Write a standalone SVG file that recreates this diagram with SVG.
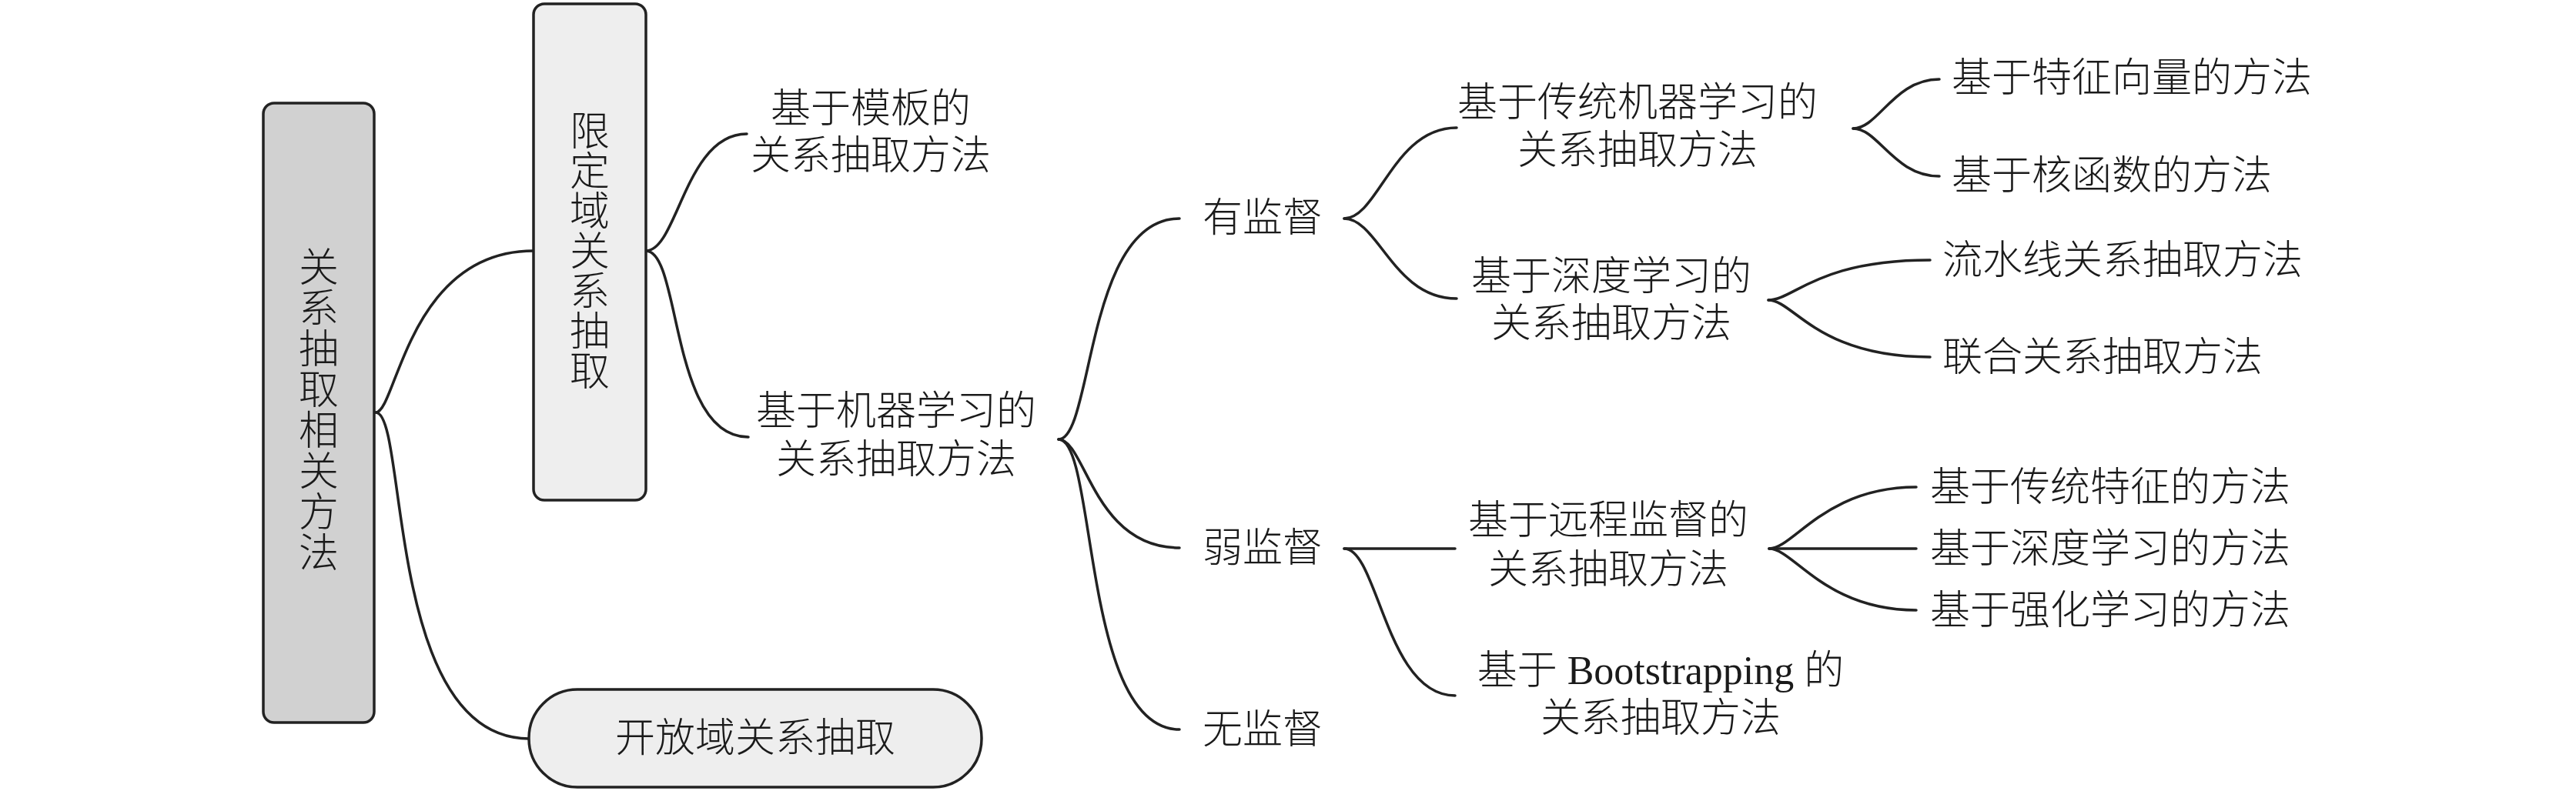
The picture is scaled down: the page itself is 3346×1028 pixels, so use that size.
<svg xmlns="http://www.w3.org/2000/svg" width="3346" height="1028" viewBox="0 0 3346 1028">
<style>
.t{font-family:"Liberation Serif","Noto Sans CJK SC",serif;font-size:52px;font-weight:300;fill:#1a1a1a;dominant-baseline:central}
.m{text-anchor:middle}
.box{stroke:#222;stroke-width:3.5}
.edge{fill:none;stroke:#222;stroke-width:3.5;stroke-linecap:round}
</style>
<rect width="3346" height="1028" fill="#fff"/>
<g id="edges">
<path class="edge" d="M488,536 C515,536 530,326 693,326"/>
<path class="edge" d="M488,536 C530,536 500,960 687,960"/>
<path class="edge" d="M839,326 C880,326 890,174 970,174"/>
<path class="edge" d="M839,326 C885,326 870,568 972,568"/>
<path class="edge" d="M1375,571 C1420,571 1410,284 1532,284"/>
<path class="edge" d="M1375,571 C1410,571 1420,712 1532,712"/>
<path class="edge" d="M1375,571 C1425,571 1405,948 1532,948"/>
<path class="edge" d="M1746,284 C1790,284 1810,166 1892,166"/>
<path class="edge" d="M1746,284 C1790,284 1810,388 1892,388"/>
<path class="edge" d="M2407,167 C2440,167 2460,103 2519,103"/>
<path class="edge" d="M2407,167 C2440,167 2460,229 2519,229"/>
<path class="edge" d="M2297,390 C2330,390 2360,338 2507,338"/>
<path class="edge" d="M2297,390 C2330,390 2360,464 2507,464"/>
<path class="edge" d="M1746,713 L1890,713"/>
<path class="edge" d="M1746,713 C1790,713 1800,904 1890,904"/>
<path class="edge" d="M2298,713 C2330,713 2370,633 2489,633"/>
<path class="edge" d="M2298,713 L2489,713"/>
<path class="edge" d="M2298,713 C2330,713 2370,793 2489,793"/>
</g>
<g id="n-root">
<rect class="box" x="342" y="134" width="144" height="805" rx="14" fill="#d1d1d1"/>
<text class="t m" x="414" y="348"><tspan x="414" y="348">关</tspan><tspan x="414" y="401">系</tspan><tspan x="414" y="454">抽</tspan><tspan x="414" y="507">取</tspan><tspan x="414" y="560">相</tspan><tspan x="414" y="613">关</tspan><tspan x="414" y="666">方</tspan><tspan x="414" y="719">法</tspan></text>
</g>
<g id="n-closed">
<rect class="box" x="693" y="5" width="146" height="645" rx="14" fill="#eeeeee"/>
<text class="t m" x="766" y="171"><tspan x="766" y="171">限</tspan><tspan x="766" y="223">定</tspan><tspan x="766" y="275">域</tspan><tspan x="766" y="327">关</tspan><tspan x="766" y="379">系</tspan><tspan x="766" y="431">抽</tspan><tspan x="766" y="483">取</tspan></text>
</g>
<g id="n-open">
<rect class="box" x="687" y="896" width="588" height="127" rx="63" fill="#eeeeee"/>
<text class="t m" x="981" y="959">开放域关系抽取</text>
</g>
<g id="n-template">
<text class="t m" x="1131" y="141">基于模板的</text>
<text class="t m" x="1131" y="202">关系抽取方法</text>
</g>
<g id="n-ml">
<text class="t m" x="1164" y="534">基于机器学习的</text>
<text class="t m" x="1164" y="597">关系抽取方法</text>
</g>
<g id="n-sup"><text class="t m" x="1640" y="283">有监督</text></g>
<g id="n-weak"><text class="t m" x="1640" y="712">弱监督</text></g>
<g id="n-unsup"><text class="t m" x="1640" y="948">无监督</text></g>
<g id="n-tradml">
<text class="t m" x="2127" y="133">基于传统机器学习的</text>
<text class="t m" x="2127" y="195">关系抽取方法</text>
</g>
<g id="n-dl">
<text class="t m" x="2093" y="359">基于深度学习的</text>
<text class="t m" x="2093" y="420">关系抽取方法</text>
</g>
<g id="n-distant">
<text class="t m" x="2089" y="676">基于远程监督的</text>
<text class="t m" x="2089" y="740">关系抽取方法</text>
</g>
<g id="n-boot">
<text class="t m" x="2157" y="871">基于 Bootstrapping 的</text>
<text class="t m" x="2157" y="933">关系抽取方法</text>
</g>
<g id="n-feat"><text class="t" x="2535" y="101">基于特征向量的方法</text></g>
<g id="n-kernel"><text class="t" x="2535" y="228">基于核函数的方法</text></g>
<g id="n-pipe"><text class="t" x="2523" y="338">流水线关系抽取方法</text></g>
<g id="n-joint"><text class="t" x="2523" y="464">联合关系抽取方法</text></g>
<g id="n-tf"><text class="t" x="2507" y="633">基于传统特征的方法</text></g>
<g id="n-dlm"><text class="t" x="2507" y="713">基于深度学习的方法</text></g>
<g id="n-rl"><text class="t" x="2507" y="793">基于强化学习的方法</text></g>
</svg>
